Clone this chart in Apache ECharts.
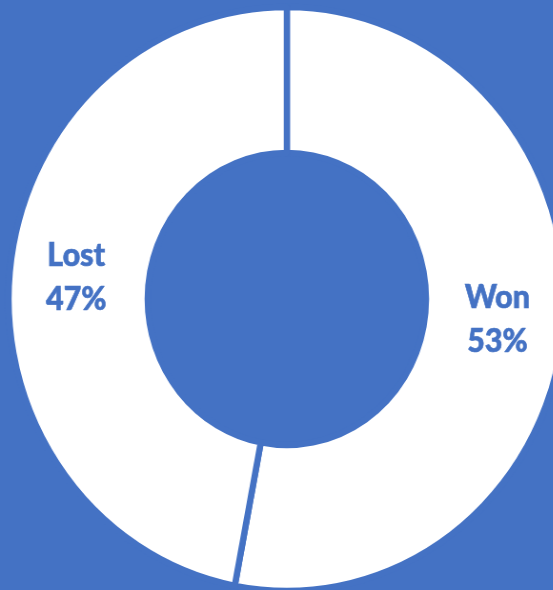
<!DOCTYPE html>
<html>
<head>
<meta charset="utf-8">
<script src="https://cdn.jsdelivr.net/npm/echarts@6/dist/echarts.min.js"></script>
<style>
  html, body { margin: 0; padding: 0; width: 553px; height: 590px; overflow: hidden; background: #4472C4; }
  #chart { width: 581px; height: 590px; transform: scaleX(0.953); transform-origin: 0 0; }
</style>
</head>
<body>
<div id="chart"></div>
<script>
const categories = ['Won', 'Lost'];
const values = [53, 47];

const blue = '#4472C4';
const chart = echarts.init(document.getElementById('chart'), null, { renderer: 'canvas' });
chart.setOption({
  backgroundColor: blue,
  animation: false,
  series: [{
    type: 'pie',
    center: [301, 299],
    radius: [146, 292],
    startAngle: 90,
    clockwise: true,
    avoidLabelOverlap: false,
    emphasis: { disabled: true },
    itemStyle: { color: '#ffffff', borderColor: blue, borderWidth: 6.5 },
    label: {
      show: true,
      position: 'inside',
      formatter: '{b}\n{d}%',
      color: blue,
      fontFamily: 'Lato',
      fontWeight: 900,
      fontSize: 32,
      lineHeight: 44,
      textBorderColor: blue,
      textBorderWidth: 0.6
    },
    labelLine: { show: false },
    data: categories.map((c, i) => ({ name: c, value: values[i] }))
  }]
});
</script>
</body>
</html>
